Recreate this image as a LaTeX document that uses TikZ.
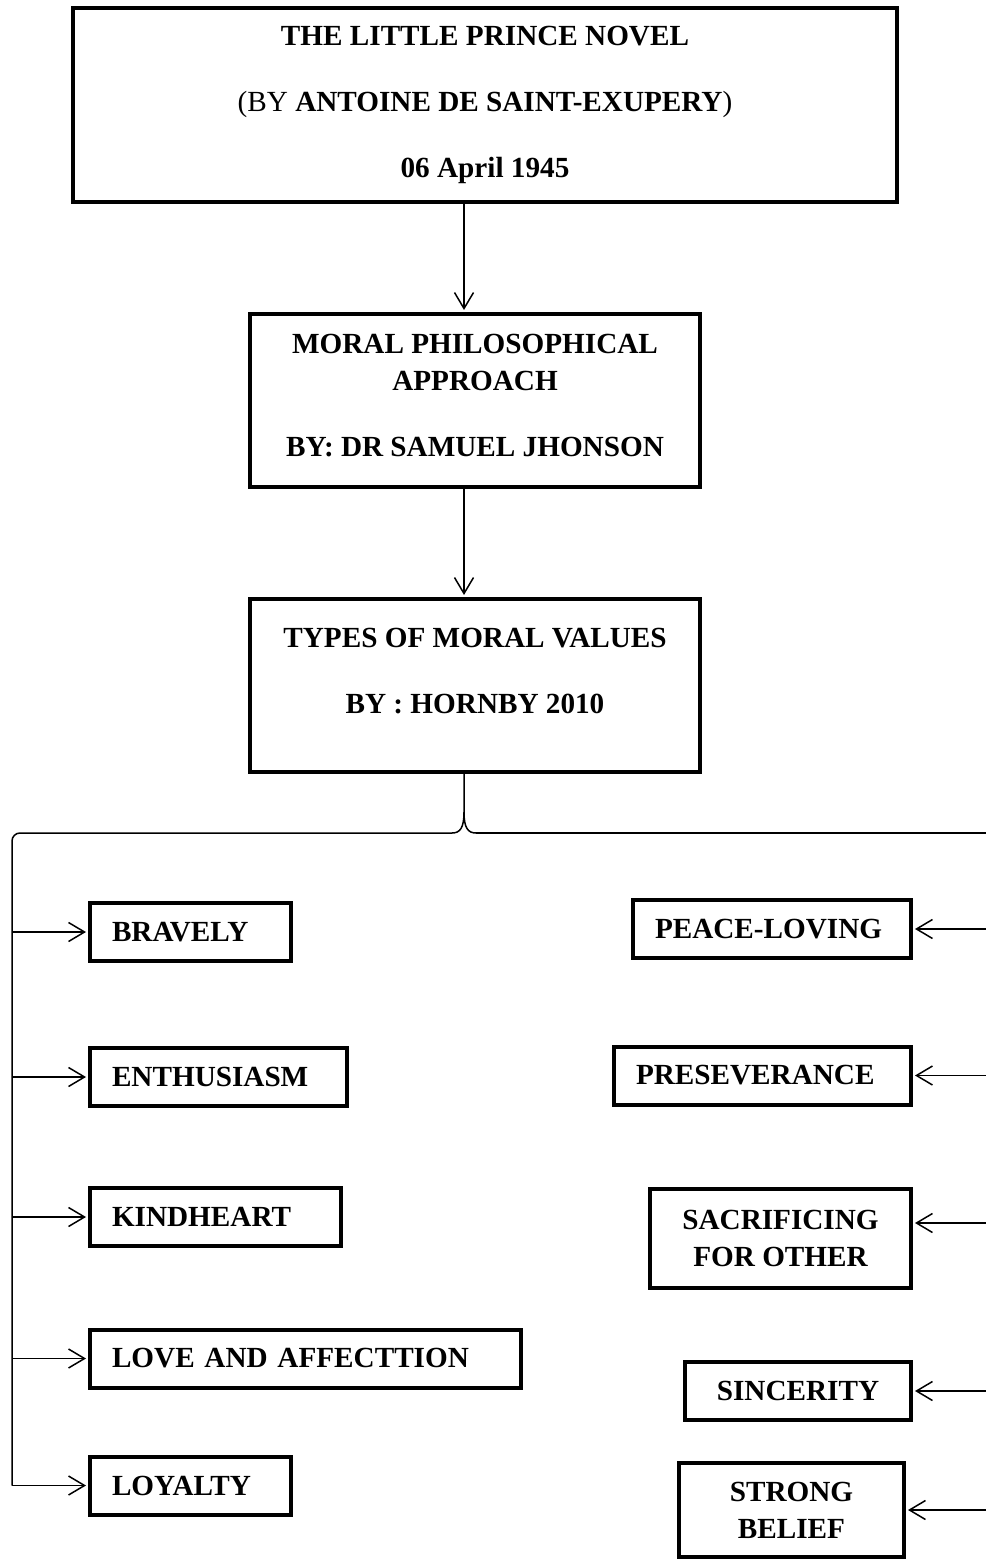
\documentclass[tikz,border=0pt]{standalone}
\usepackage{fontspec}
\setmainfont{Liberation Serif}
\usepackage{tikz}
\usetikzlibrary{arrows.meta,positioning}

\begin{document}
\begin{tikzpicture}[x=0.5pt, y=-0.5pt, font=\bfseries\fontsize{14.6}{18.5}\selectfont]
\tikzset{
    mainbox/.style={rectangle, draw=black, line width=2pt, align=center, inner sep=0pt, minimum width=225pt, minimum height=86.5pt},
    valbox/.style={rectangle, draw=black, line width=2pt, inner xsep=11pt, inner ysep=0pt, minimum height=29pt},
    link/.style={line width=0.75pt},
    myarrow/.style={-{Straight Barb[length=8pt,width=9.5pt]}, line width=0.75pt, shorten >=1pt}
}
\useasboundingbox (0,0) rectangle (985,1561);

\node[mainbox, minimum width=412pt, minimum height=97pt] (novel) at (485,105)
    {THE LITTLE PRINCE NOVEL\\[14.5pt]{\mdseries(BY} ANTOINE DE SAINT-EXUPERY{\mdseries)}\\[14.5pt]06 April 1945};
% the empty last lines lift the text a little, as in the original
\node[mainbox, below=54pt of novel, xshift=-5pt] (approach)
    {MORAL PHILOSOPHICAL\\APPROACH\\[14.5pt]BY: DR SAMUEL JHONSON\\[-13.5pt]\mbox{}};
\node[mainbox, below=54pt of approach] (types)
    {TYPES OF MORAL VALUES\\[14.5pt]BY : HORNBY 2010\\[-4pt]\mbox{}};

% left column
\node[valbox, anchor=west, align=left, text width=78.5pt] (bravely) at (88,932) {BRAVELY};
\node[valbox, anchor=west, align=left, text width=106.5pt] (enthusiasm) at (88,1077) {ENTHUSIASM};
\node[valbox, anchor=west, align=left, text width=103.5pt] (kindheart) at (88,1217) {KINDHEART};
\node[valbox, anchor=west, align=left, text width=193.5pt] (love) at (88,1358.5) {LOVE AND AFFECTTION};
\node[valbox, anchor=west, align=left, text width=78.5pt] (loyalty) at (88,1485.5) {LOYALTY};

% right column
\node[valbox, anchor=east, align=left, text width=117pt] (peace) at (913,929) {PEACE-LOVING};
\node[valbox, anchor=east, align=left, text width=126.5pt] (preseverance) at (913,1075.5) {PRESEVERANCE};
\node[valbox, anchor=east, align=center, minimum width=130.5pt, minimum height=49.5pt] (sacrificing) at (913,1238.5) {SACRIFICING\\FOR OTHER};
\node[valbox, anchor=east, align=center, minimum width=113pt] (sincerity) at (913,1391) {SINCERITY};
\node[valbox, anchor=east, align=center, minimum width=112.5pt, minimum height=47pt] (strong) at (906,1510) {STRONG\\BELIEF};

\coordinate (spine) at (464,0);
\coordinate (cusp) at (464,812);
\coordinate (braceL) at (452,833);
\coordinate (braceR) at (476,833);
\coordinate (trunkL) at (12,1485.5);
\coordinate (trunkR) at (992,1510);
\coordinate (sacIn) at ([yshift=7.75pt]sacrificing.east);

\draw[myarrow] (novel.south -| spine) -- (approach.north -| spine);
\draw[myarrow] (approach.south -| spine) -- (types.north -| spine);

% brace below the types box
\draw[link] (types.south -| spine) -- (cusp) .. controls (464,828) and (460,833) .. (braceL);
\draw[link] (cusp) .. controls (464,828) and (468,833) .. (braceR);
\draw[link, rounded corners=4pt] (braceL) -| (trunkL);
\draw[link] (braceR) -| (trunkR);

\foreach \v in {bravely,enthusiasm,kindheart,love,loyalty}
    \draw[myarrow] (\v.west -| trunkL) -- (\v.west);
\foreach \v in {peace,preseverance,sincerity,strong}
    \draw[myarrow] (\v.east -| trunkR) -- (\v.east);
\draw[myarrow] (sacIn -| trunkR) -- (sacIn);

\end{tikzpicture}
\end{document}
